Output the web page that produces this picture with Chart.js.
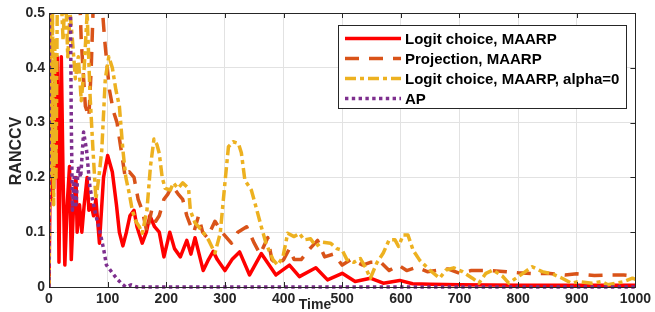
<!DOCTYPE html>
<html>
<head>
<meta charset="utf-8">
<title>RANCCV</title>
<script src="https://cdn.jsdelivr.net/npm/chart.js"></script>
<style>
body { margin: 0; background: #fff; }
.chart-container { position: relative; width: 655px; height: 312px; }
</style>
</head>
<body>
<div class="chart-container"><canvas id="myChart"></canvas></div>
<script>
// values (time, RANCCV)
const seriesNames = ['Logit choice, MAARP', 'Projection, MAARP', 'Logit choice, MAARP, alpha=0', 'AP'];

const redT = [0,2,4,6,8,10,12,14,17,21,24,27,31,35,38,42,46,48,52,56,60,65,68,72,76,80,86,93,100,108,115,120,126,132,138,145,150,159,166,172,180,188,196,206,214,224,235,242,249,263,272,280,287,300,312,325,342,362,387,410,427,455,475,500,522,548,570,598,620,650,700,800,900,1000];
const redV = [0,0.2,0.16,0.25,0.18,0.4,0.2,0.42,0.045,0.42,0.2,0.04,0.15,0.22,0.05,0.15,0.2,0.1,0.15,0.1,0.15,0.2,0.14,0.15,0.13,0.16,0.08,0.2,0.24,0.21,0.15,0.1,0.075,0.1,0.13,0.14,0.11,0.08,0.1,0.13,0.11,0.1,0.055,0.1,0.07,0.055,0.085,0.06,0.09,0.03,0.05,0.065,0.05,0.03,0.05,0.064,0.022,0.061,0.022,0.04,0.019,0.035,0.013,0.025,0.01,0.016,0.007,0.012,0.006,0.005,0.004,0.003,0.003,0.003];

const orangeT = [0,2,40,50,55,62,68,72,78,88,95,103,110,116,123,130,137,145,152,159,167,175,182,188,196,203,210,220,228,235,242,247,255,262,270,283,295,311,322,337,350,360,373,380,390,400,410,418,430,445,458,470,485,500,515,535,548,565,580,596,610,627,645,660,680,700,720,750,780,800,830,850,880,900,930,960,980,1000];
const orangeV = [0,0.7,0.7,0.6,0.45,0.33,0.31,0.4,0.6,0.55,0.45,0.36,0.32,0.3,0.25,0.2,0.21,0.2,0.16,0.14,0.1,0.14,0.12,0.13,0.16,0.17,0.185,0.17,0.16,0.13,0.11,0.1,0.13,0.1,0.09,0.12,0.1,0.08,0.1,0.11,0.08,0.06,0.09,0.05,0.04,0.05,0.07,0.05,0.05,0.07,0.085,0.055,0.06,0.04,0.05,0.04,0.045,0.046,0.03,0.04,0.03,0.036,0.028,0.03,0.033,0.025,0.03,0.03,0.028,0.026,0.024,0.025,0.022,0.024,0.021,0.022,0.022,0.02];

const yellowT = [0,2,4,6,8,10,12,14,18,24,28,32,36,40,45,50,55,60,65,70,75,80,85,90,96,102,108,114,120,126,131,137,142,148,154,159,167,173,179,184,188,193,198,207,212,220,228,238,241,249,260,272,283,292,300,306,314,323,328,334,345,353,362,370,382,390,399,407,418,427,435,446,455,466,480,491,500,508,520,531,540,548,559,570,580,590,596,604,612,621,632,649,666,677,690,705,722,733,745,757,773,784,807,824,841,858,875,891,903,926,942,953,981,995,1000];
const yellowV = [0,0.6,0.2,0.5,0.15,0.45,0.2,0.5,0.6,0.45,0.55,0.42,0.5,0.45,0.38,0.42,0.34,0.4,0.5,0.35,0.25,0.16,0.2,0.25,0.38,0.42,0.4,0.36,0.33,0.25,0.2,0.17,0.14,0.12,0.11,0.098,0.14,0.22,0.27,0.26,0.244,0.2,0.18,0.177,0.19,0.18,0.19,0.18,0.14,0.117,0.104,0.086,0.062,0.098,0.19,0.256,0.265,0.262,0.245,0.195,0.177,0.146,0.11,0.08,0.05,0.04,0.055,0.098,0.092,0.098,0.086,0.088,0.074,0.082,0.08,0.07,0.067,0.05,0.045,0.052,0.035,0.016,0.044,0.062,0.086,0.086,0.074,0.095,0.095,0.067,0.049,0.031,0.016,0.031,0.035,0.028,0.016,0.007,0.025,0.031,0.02,0.007,0.024,0.037,0.028,0.024,0.016,0.007,0.01,0.007,0.01,0.004,0.01,0.016,0.014];

const purpleT = [0,1,36,38,40,43,46,50,54,59,64,70,76,81,87,93,98,105,115,125,131,140,150,1000];
const purpleV = [0,0.6,0.6,0.3,0.14,0.2,0.15,0.22,0.2,0.283,0.25,0.18,0.15,0.126,0.1,0.07,0.04,0.03,0.016,0.005,0,0.004,0,0];

const xTicks = [0,100,200,300,400,500,600,700,800,900,1000];
const yTicks = [0,0.1,0.2,0.3,0.4,0.5];

const FONT = "'Liberation Sans', Arial, sans-serif";
const AXIS_COLOR = '#262626';

function points(ts, vs) {
	return ts.map((t, i) => ({ x: t, y: vs[i] }));
}

const styles = [
	{ color: '#FF0000', dash: [], width: 3.5 },
	{ color: '#D95319', dash: [14, 10], width: 3.5 },
	{ color: '#EDB120', dash: [11, 4, 4, 4], width: 3.5 },
	{ color: '#7E2F8E', dash: [3.4, 3.4], width: 3.5 }
];
const allData = [points(redT, redV), points(orangeT, orangeV), points(yellowT, yellowV), points(purpleT, purpleV)];

const datasets = allData.map((d, i) => ({
	label: seriesNames[i],
	data: d,
	borderColor: styles[i].color,
	borderDash: styles[i].dash,
	borderWidth: styles[i].width,
	borderCapStyle: 'butt',
	borderJoinStyle: 'round',
	pointRadius: 0,
	tension: 0,
	fill: false,
	order: 4 - i,
	clip: { left: 0, top: 0, right: 0, bottom: 4 }
}));

// axes box, inner ticks, axis titles and the legend box
const decorations = {
	id: 'decorations',
	afterDraw(chart) {
		const ctx = chart.ctx;
		const a = chart.chartArea;
		const xs = chart.scales.x, ys = chart.scales.y;
		ctx.save();
		ctx.strokeStyle = AXIS_COLOR;
		ctx.lineWidth = 1;
		ctx.beginPath();
		xTicks.forEach(t => {
			const px = Math.round(xs.getPixelForValue(t)) + 0.5;
			ctx.moveTo(px, a.bottom); ctx.lineTo(px, a.bottom - 5);
			ctx.moveTo(px, a.top); ctx.lineTo(px, a.top + 5);
		});
		yTicks.forEach(v => {
			const py = Math.round(ys.getPixelForValue(v)) + 0.5;
			ctx.moveTo(a.left, py); ctx.lineTo(a.left + 5, py);
			ctx.moveTo(a.right, py); ctx.lineTo(a.right - 5, py);
		});
		ctx.stroke();
		ctx.strokeRect(Math.round(a.left) + 0.5, Math.round(a.top) + 0.5, Math.round(a.right - a.left), Math.round(a.bottom - a.top));

		// axis titles
		ctx.fillStyle = AXIS_COLOR;
		ctx.font = 'bold 14px ' + FONT;
		ctx.textAlign = 'center';
		ctx.textBaseline = 'middle';
		ctx.fillText('Time', 315, 305);
		ctx.save();
		ctx.translate(17, 151);
		ctx.rotate(-Math.PI / 2);
		ctx.font = 'bold 16px ' + FONT;
		ctx.fillText('RANCCV', 0, 0);
		ctx.restore();

		// legend
		const lx = 338.5, ly = 25.5, lw = 288, lh = 83;
		ctx.fillStyle = '#fff';
		ctx.fillRect(lx, ly, lw, lh);
		ctx.strokeStyle = AXIS_COLOR;
		ctx.lineWidth = 1;
		ctx.strokeRect(lx, ly, lw, lh);
		ctx.font = 'bold 15px ' + FONT;
		ctx.textAlign = 'left';
		const rows = [38.5, 58.5, 78.5, 98.5];
		seriesNames.forEach((name, i) => {
			ctx.save();
			ctx.strokeStyle = styles[i].color;
			ctx.lineWidth = styles[i].width;
			ctx.lineCap = 'butt';
			ctx.setLineDash(styles[i].dash);
			ctx.beginPath();
			ctx.moveTo(345, rows[i]);
			ctx.lineTo(401, rows[i]);
			ctx.stroke();
			ctx.restore();
			ctx.fillStyle = '#000';
			ctx.fillText(name, 405, rows[i] + 1);
		});
		ctx.restore();
	}
};

const ctx = document.getElementById('myChart').getContext('2d');
new Chart(ctx, {
	type: 'line',
	data: { datasets },
	options: {
		responsive: true,
		maintainAspectRatio: false,
		animation: false,
		events: [],
		layout: { padding: { top: 13, right: 14, left: 0, bottom: 0 } },
		plugins: { legend: { display: false }, tooltip: { enabled: false } },
		scales: {
			x: {
				type: 'linear',
				min: 0, max: 1000,
				afterFit: s => { s.height = 25; },
				afterBuildTicks: s => { s.ticks = xTicks.map(v => ({ value: v })); },
				grid: { color: '#e2e2e2', lineWidth: 1, drawTicks: false },
				border: { display: false },
				ticks: {
					padding: 4,
					maxRotation: 0,
					autoSkip: false,
					color: AXIS_COLOR,
					font: { family: FONT, size: 14, weight: 'bold' },
					callback: v => String(v)
				}
			},
			y: {
				type: 'linear',
				min: 0, max: 0.5,
				afterFit: s => { s.width = 49; },
				afterBuildTicks: s => { s.ticks = yTicks.map(v => ({ value: v })); },
				grid: { color: '#e2e2e2', lineWidth: 1, drawTicks: false },
				border: { display: false },
				ticks: {
					padding: 4,
					color: AXIS_COLOR,
					font: { family: FONT, size: 14, weight: 'bold' },
					callback: v => String(+v.toFixed(1))
				}
			}
		}
	},
	plugins: [decorations]
});
</script>
</body>
</html>
